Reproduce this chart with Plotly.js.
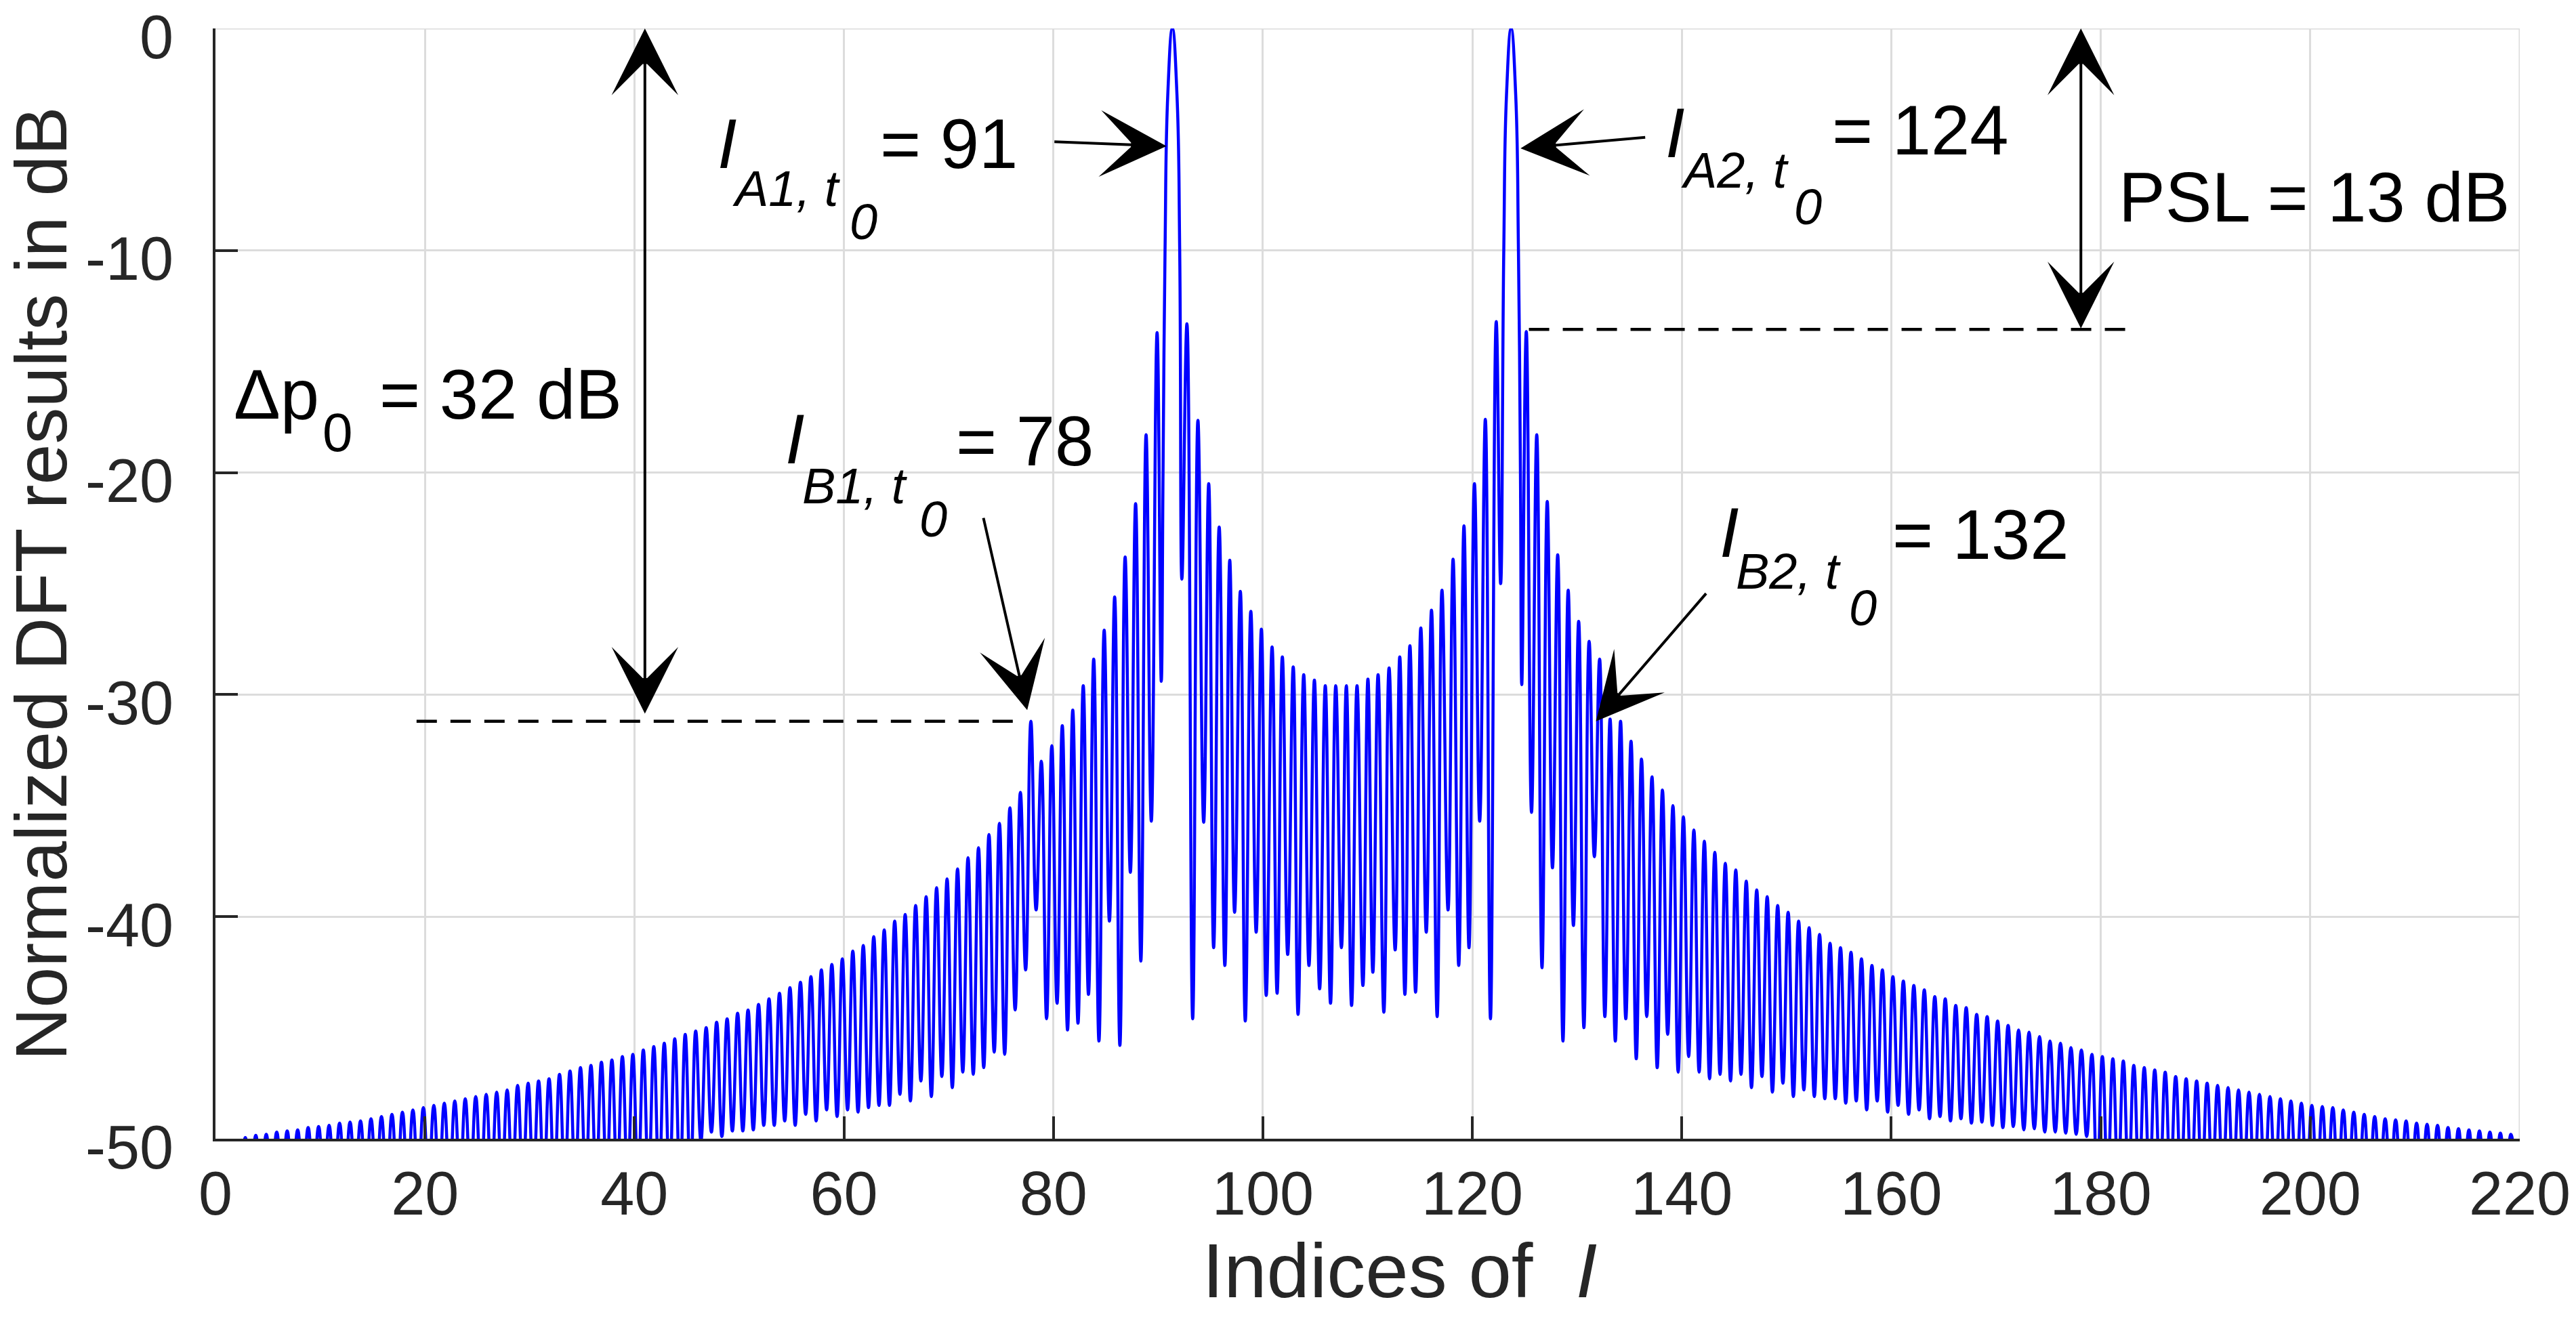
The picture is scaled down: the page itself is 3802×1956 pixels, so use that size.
<!DOCTYPE html>
<html>
<head>
<meta charset="utf-8">
<script src="https://cdn.plot.ly/plotly-3.0.1.min.js"></script>
<style>
html,body{margin:0;padding:0;background:#ffffff;}
#chart{width:3802px;height:1956px;}
</style>
</head>
<body>
<div id="chart"></div>
<script>
// ---------------- data ----------------
// Left tail: one side lobe per index k = 0..88 (lobe top at k+0.85, null at k+0.35), dB
const leftTailTopDb = [
 -50.2,-50.1,-49.95,-49.85,-49.8,-49.7,-49.65,-49.6,-49.5,-49.45,
 -49.4,-49.3,-49.25,-49.2,-49.1,-49.0,-48.9,-48.8,-48.7,-48.6,
 -48.5,-48.4,-48.3,-48.2,-48.1,-48.0,-47.9,-47.8,-47.6,-47.5,
 -47.4,-47.3,-47.1,-46.95,-46.8,-46.7,-46.55,-46.45,-46.3,-46.2,
 -46.0,-45.85,-45.7,-45.5,-45.3,-45.15,-45.0,-44.75,-44.6,-44.35,
 -44.2,-43.95,-43.7,-43.45,-43.2,-42.95,-42.7,-42.4,-42.15,-41.9,
 -41.55,-41.3,-40.9,-40.6,-40.2,-39.9,-39.5,-39.1,-38.7,-38.3,
 -37.85,-37.35,-36.9,-36.3,-35.8,-35.1,-34.4,-31.2,-33.0,-32.3,
 -31.4,-30.7,-29.6,-28.4,-27.1,-25.6,-23.8,-21.4,-18.3
];
const leftTailNullDb = [
 -52,-52,-52,-52,-52,-52,-52,-52,-52,-52,
 -52,-52,-52,-52,-52,-52,-52,-52,-52,-52,
 -52,-52,-52,-52,-52,-52,-52,-52,-52,-52,
 -52,-52,-52,-52,-52,-52,-52,-52,-52,-52,
 -52,-52,-52,-52,-52,-52,-50.1,-49.7,-49.9,-49.65,
 -49.65,-49.6,-49.4,-49.4,-49.2,-49.4,-48.9,-49.2,-48.7,-49.0,
 -48.7,-48.8,-48.6,-48.5,-48.5,-48.0,-48.3,-47.4,-48.1,-47.2,
 -47.7,-47.0,-47.1,-46.8,-46.1,-46.2,-44.2,-42.4,-39.7,-44.6,
 -43.9,-45.1,-44.8,-43.5,-45.6,-40.2,-45.8,-38.0,-42.0,-35.7
];
// Core region around the two strong targets (A1 ~ 91, A2 ~ 124): vertices read one by one
const coreX = [
 89.9,90.3,90.47,90.66,90.92,91.36,91.8,92.06,92.27,92.75,
 93.3,93.8,94.35,94.83,95.3,95.83,96.37,96.84,97.3,97.85,
 98.32,98.85,99.36,99.86,100.32,100.88,101.36,101.86,102.37,102.9,
 103.36,103.9,104.4,104.92,105.42,105.96,106.46,106.96,107.5,107.97,
 108.47,108.99,109.55,110.03,110.5,111.0,111.55,112.05,112.63,113.07,
 113.56,114.04,114.58,115.08,115.6,116.1,116.64,117.1,117.68,118.16,
 118.7,119.2,119.68,120.2,120.7,121.24,121.73,122.28,122.7,123.0,
 123.26,123.7,124.14,124.4,124.59,124.72,125.15
];
const coreDb = [
 -13.7,-29.4,-20,-10,-3,0,-3,-10,-24.8,-13.3,
 -44.6,-17.65,-35.75,-20.5,-41.4,-22.45,-42.2,-23.95,-39.8,-25.35,
 -44.7,-26.25,-40.7,-27.05,-43.55,-27.85,-43.45,-28.3,-41.7,-28.75,
 -44.4,-29.1,-42.2,-29.35,-43.25,-29.6,-43.9,-29.6,-41.4,-29.6,
 -44.0,-29.6,-43.1,-29.3,-42.5,-29.1,-44.3,-28.8,-41.5,-28.3,
 -43.5,-27.8,-43.4,-27.0,-40.7,-26.2,-44.5,-25.3,-39.7,-23.9,
 -42.2,-22.4,-41.4,-20.5,-35.7,-17.6,-44.6,-13.2,-25.0,-10,
 -3,0,-3,-10,-20,-29.55,-13.65
];
// Right tail: lobe tops for index k = 126..219 (at k+0.15), nulls for k = 125..219 (at k+0.65), dB
const rightTailTopDb = [
 -18.3,-21.3,-23.7,-25.3,-26.7,-27.6,-28.4,-31.1,-31.2,-32.1,
 -32.9,-33.7,-34.3,-35.0,-35.5,-36.1,-36.6,-37.1,-37.6,-37.9,
 -38.4,-38.8,-39.1,-39.5,-39.8,-40.2,-40.5,-40.8,-41.2,-41.4,
 -41.6,-41.9,-42.2,-42.4,-42.7,-42.9,-43.1,-43.3,-43.6,-43.7,
 -44.0,-44.1,-44.4,-44.5,-44.7,-44.9,-45.1,-45.2,-45.4,-45.6,
 -45.7,-45.9,-46.0,-46.2,-46.3,-46.4,-46.5,-46.7,-46.8,-46.9,
 -47.0,-47.2,-47.3,-47.4,-47.5,-47.6,-47.7,-47.8,-47.9,-48.0,
 -48.1,-48.2,-48.3,-48.4,-48.5,-48.55,-48.6,-48.7,-48.8,-48.9,
 -49.0,-49.1,-49.15,-49.2,-49.3,-49.35,-49.4,-49.5,-49.55,-49.6,
 -49.65,-49.7,-49.75,-49.8
];
const rightTailNullDb = [
 -35.3,-42.3,-37.8,-45.6,-40.4,-45.0,-37.3,-44.5,-45.6,-44.6,
 -46.4,-44.5,-46.8,-45.3,-47.0,-46.3,-47.0,-47.3,-47.1,-47.4,
 -47.1,-47.7,-47.2,-47.9,-47.5,-48.1,-47.8,-48.1,-48.2,-48.2,
 -48.4,-48.3,-48.7,-48.3,-48.8,-48.5,-48.9,-48.7,-49.1,-49.0,
 -49.2,-49.1,-49.3,-49.25,-49.4,-49.5,-49.45,-49.6,-49.55,-49.7,
 -49.7,-49.75,-49.8,-49.9,-52,-52,-52,-52,-52,-52,
 -52,-52,-52,-52,-52,-52,-52,-52,-52,-52,
 -52,-52,-52,-52,-52,-52,-52,-52,-52,-52,
 -52,-52,-52,-52,-52,-52,-52,-52,-52,-52,
 -52,-52,-52,-52,-52
];
const xTickVals = [0,20,40,60,80,100,120,140,160,180,200,220];
const xTickText = ['0','20','40','60','80','100','120','140','160','180','200','220'];
const yTickVals = [-50,-40,-30,-20,-10,0];
const yTickText = ['-50','-40','-30','-20','-10','0'];

// ---------------- assemble the curve ----------------
const curveX = [], curveY = [];
for (let k = 0; k < leftTailTopDb.length; k++) {
  curveX.push(k + 0.35); curveY.push(leftTailNullDb[k]);
  curveX.push(k + 0.85); curveY.push(leftTailTopDb[k]);
}
curveX.push(leftTailTopDb.length + 0.35); curveY.push(leftTailNullDb[leftTailTopDb.length]);
for (let i = 0; i < coreX.length; i++) { curveX.push(coreX[i]); curveY.push(coreDb[i]); }
for (let i = 0; i < rightTailNullDb.length; i++) {
  curveX.push(125 + i + 0.65); curveY.push(rightTailNullDb[i]);
  if (i < rightTailTopDb.length) { curveX.push(126 + i + 0.15); curveY.push(rightTailTopDb[i]); }
}

const FONT = '"Liberation Sans", Arial, Helvetica, sans-serif';
const AX = '#262626';
const GRID = '#dcdcdc';

const trace = {
  x: curveX, y: curveY, type: 'scatter', mode: 'lines',
  line: {color: '#0000ff', width: 4.5, shape: 'spline', smoothing: 1.3},
  hoverinfo: 'x+y'
};

function label(text, x, y, size) {
  return {text: text, x: x, y: y, xref: 'x', yref: 'y', xanchor: 'left', yanchor: 'middle',
          showarrow: false, font: {family: FONT, size: size, color: '#000000'}};
}
function arrow(x, y, ax, ay, both) {
  return {text: '', x: x, y: y, ax: ax, ay: ay, xref: 'x', yref: 'y', axref: 'x', ayref: 'y',
          showarrow: true, arrowhead: 3, arrowsize: 4.1, arrowwidth: 4, arrowcolor: '#000000',
          arrowside: both ? 'end+start' : 'end', startarrowhead: 3, startarrowsize: 4.1};
}
const MAIN = 103, SUB = 74;
const annotations = [
  // delta p0
  label('\u0394p', 1.6, -16.5, MAIN),
  label('0', 10.1, -18.2, 80),
  label('= 32 dB', 15.5, -16.5, MAIN),
  arrow(41.0, 0, 41.0, -30.9, true),
  // I_A1
  label('<i>I</i>', 47.8, -5.2, MAIN),
  label('<i>A1, t</i>', 49.2, -7.2, SUB),
  label('<i>0</i>', 60.4, -8.7, SUB),
  label('= 91', 63.3, -5.2, MAIN),
  arrow(90.8, -5.3, 80.0, -5.1, false),
  // I_B1
  label('<i>I</i>', 54.3, -18.5, MAIN),
  label('<i>B1, t</i>', 55.9, -20.6, SUB),
  label('<i>0</i>', 67.1, -22.1, SUB),
  label('= 78', 70.6, -18.6, MAIN),
  arrow(77.5, -30.7, 73.3, -22.0, false),
  // I_A2
  label('<i>I</i>', 138.3, -4.7, MAIN),
  label('<i>A2, t</i>', 139.8, -6.4, SUB),
  label('<i>0</i>', 150.6, -8.05, SUB),
  label('= 124', 154.2, -4.6, MAIN),
  arrow(124.6, -5.4, 136.6, -4.9, false),
  // I_B2
  label('<i>I</i>', 143.5, -22.7, MAIN),
  label('<i>B2, t</i>', 145.0, -24.45, SUB),
  label('<i>0</i>', 155.8, -26.1, SUB),
  label('= 132', 160.0, -22.8, MAIN),
  arrow(131.8, -31.2, 142.4, -25.4, false),
  // PSL
  label('PSL = 13 dB', 181.6, -7.6, MAIN),
  arrow(178.1, 0, 178.1, -13.55, true)
];
const shapes = [
  // grid lines on the upper and right borders of the axes box
  {type: 'line', xref: 'x', yref: 'y', x0: 0, x1: 220, y0: 0, y1: 0, layer: 'below',
   line: {color: GRID, width: 3}},
  {type: 'line', xref: 'x', yref: 'y', x0: 220, x1: 220, y0: -50, y1: 0, layer: 'below',
   line: {color: GRID, width: 3}},
  // dashed reference levels
  {type: 'line', xref: 'x', yref: 'y', x0: 19.2, x1: 77.3, y0: -31.2, y1: -31.2,
   line: {color: '#000000', width: 4.5, dash: '30px,20px'}},
  {type: 'line', xref: 'x', yref: 'y', x0: 125.4, x1: 182.8, y0: -13.55, y1: -13.55,
   line: {color: '#000000', width: 4.5, dash: '30px,20px'}}
];

const layout = {
  width: 3802, height: 1956,
  margin: {l: 318, r: 83, t: 42, b: 275, pad: 0},
  paper_bgcolor: '#ffffff', plot_bgcolor: '#ffffff',
  showlegend: false,
  font: {family: FONT, size: 90, color: AX},
  xaxis: {
    range: [0, 220], tickmode: 'array', tickvals: xTickVals, ticktext: xTickText,
    ticks: 'inside', ticklen: 33, tickwidth: 4, tickcolor: AX,
    showline: true, linecolor: AX, linewidth: 4, mirror: false,
    showgrid: true, gridcolor: GRID, gridwidth: 3, zeroline: false,
    tickfont: {family: FONT, size: 90, color: AX}, ticklabelstandoff: 0,
    ticklabeloverflow: 'allow',
    title: {text: '&nbsp;&nbsp;&nbsp;Indices of&nbsp; <i>I</i>', font: {family: FONT, size: 114, color: AX}, standoff: 0}
  },
  yaxis: {
    range: [-50, 0], tickmode: 'array', tickvals: yTickVals, ticktext: yTickText,
    ticks: 'inside', ticklen: 33, tickwidth: 4, tickcolor: AX,
    showline: true, linecolor: AX, linewidth: 4, mirror: false,
    showgrid: true, gridcolor: GRID, gridwidth: 3, zeroline: false,
    tickfont: {family: FONT, size: 90, color: AX}, ticklabelstandoff: 40,
    ticklabelshift: 12, ticklabeloverflow: 'allow',
    title: {text: 'Normalized DFT results in dB', font: {family: FONT, size: 108, color: AX}, standoff: 46}
  },
  annotations: annotations,
  shapes: shapes
};

Plotly.newPlot('chart', [trace], layout, {staticPlot: true, displayModeBar: false});
</script>
</body>
</html>
